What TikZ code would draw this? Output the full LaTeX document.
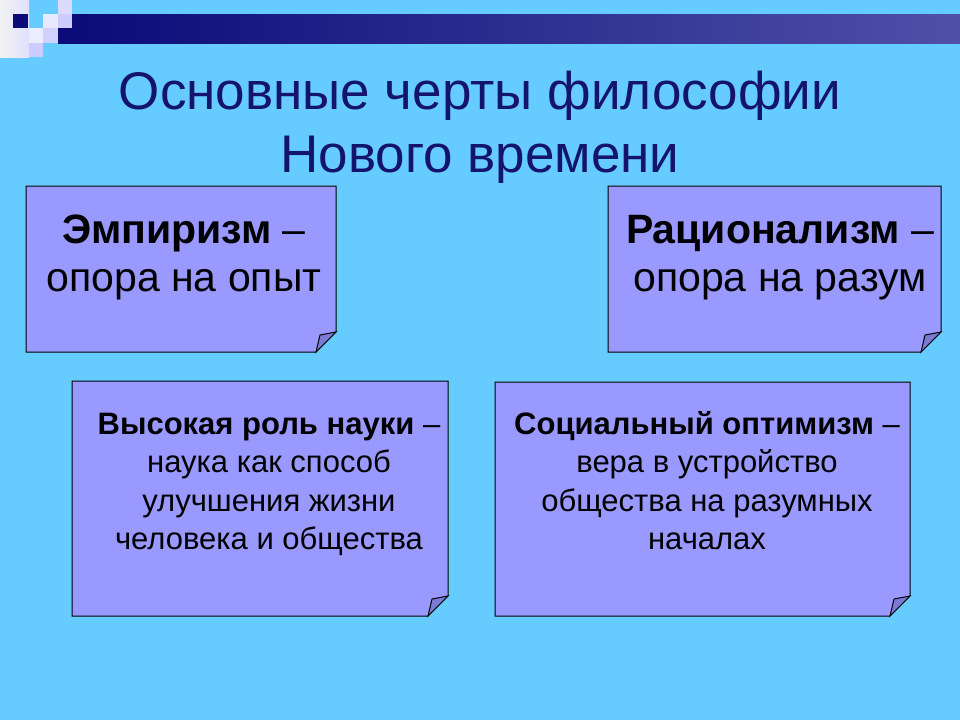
\documentclass[tikz,border=0pt]{standalone}
\usepackage{fontspec}
\setmainfont{Liberation Sans}
\definecolor{bg}{HTML}{66CCFF}
\definecolor{boxf}{HTML}{9999FF}
\definecolor{foldf}{HTML}{7B7BD6}
\definecolor{navy}{HTML}{0A0A78}
\definecolor{barR}{HTML}{5050A8}
\definecolor{titlec}{HTML}{14146E}
\newcommand{\notebox}[5]{% x0,y0,x1,y1,name
  \fill[boxf,draw=black,line width=1pt] (#1,#2) -- (#3,#2) -- (#3,#4-20) -- (#3-20,#4) -- (#1,#4) -- cycle;
  \fill[foldf,draw=black,line width=1pt] (#3,#4-20) -- (#3-20,#4) -- (#3-16,#4-17) -- cycle;
  \coordinate (#5) at ({(#1+#3)/2},#2);}
\begin{document}
\begin{tikzpicture}[x=1pt,y=-1pt,
  big/.style={font=\fontsize{41}{50}\selectfont,anchor=base,inner sep=0},
  small/.style={font=\fontsize{31}{38}\selectfont,anchor=base,inner sep=0},
  ttl/.style={text=titlec,font=\fontsize{53}{63}\selectfont,anchor=base,inner sep=0}]
\useasboundingbox[fill=bg] (0,0) rectangle (960,720);
% decoration
\shade[left color=navy,right color=barR] (58,14) rectangle (960,43);
\fill[left color=white!90!gray,right color=white!70!blue!40] (0,0) rectangle (29,57);
\fill[navy] (13,14) rectangle (28,28);
\fill[white!70!blue!30] (43,14) rectangle (58,28);
\fill[white!60!blue!35] (58,0) rectangle (72,14);
\fill[white!50!blue!40] (58,14) rectangle (72,28);
\fill[white!55!blue!40] (43,28) rectangle (58,43);
\fill[white!70!blue!25] (29,28) rectangle (43,43);
\fill[white!50!blue!40] (29,43) rectangle (43,57);
% title
\node[ttl] (title1) at (480,109) {Основные черты философии};
\node[ttl] (title2) at (480,172) {Нового времени};
% boxes
\notebox{26}{186}{336}{352}{b1}
\notebox{608}{186}{941}{352}{b2}
\notebox{72}{381}{448}{616}{b3}
\notebox{495}{382}{910}{616}{b4}
\node[big] (t1a) at (184,243) {\textbf{Эмпиризм} –};
\node[big] (t1b) at (184,291) {опора на опыт};
\node[big] (t2a) at (780,243) {\textbf{Рационализм} –};
\node[big] (t2b) at (780,291) {опора на разум};
\node[small] (t3a) at (269,434) {\textbf{Высокая роль науки} –};
\node[small] (t3b) at (269,472.5) {наука как способ};
\node[small] (t3c) at (269,511) {улучшения жизни};
\node[small] (t3d) at (269,549.5) {человека и общества};
\node[small] (t4a) at (707,434) {\textbf{Социальный оптимизм} –};
\node[small] (t4b) at (707,472.5) {вера в устройство};
\node[small] (t4c) at (707,511) {общества на разумных};
\node[small] (t4d) at (707,549.5) {началах};
\end{tikzpicture}
\end{document}
